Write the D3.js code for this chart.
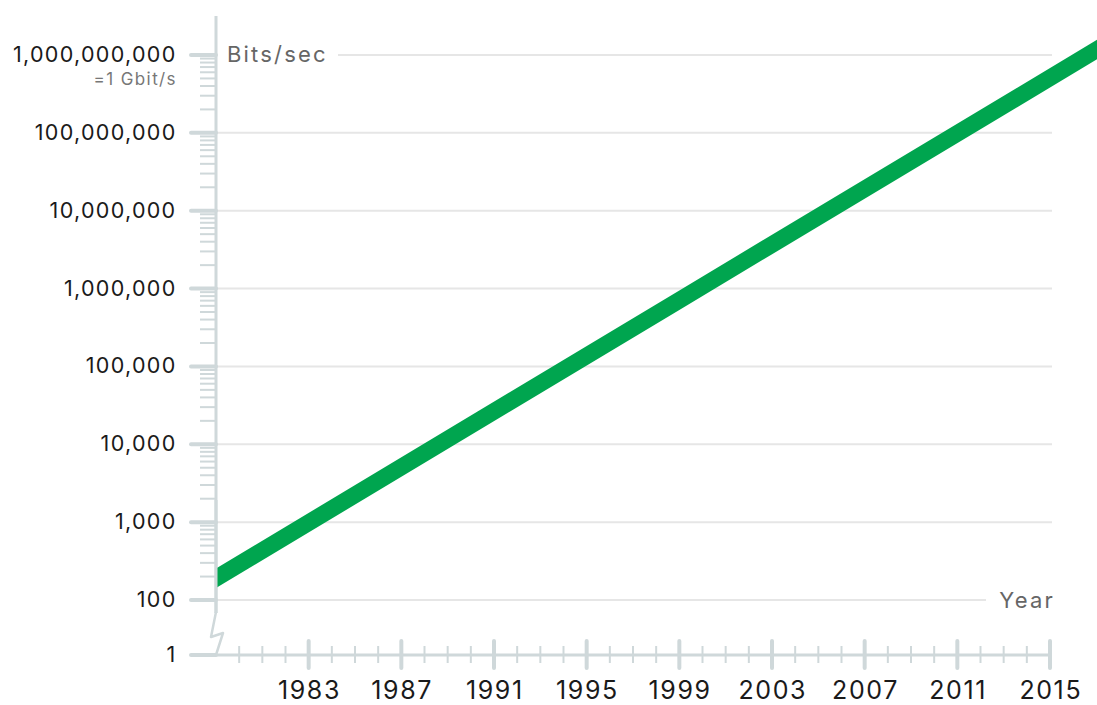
<!DOCTYPE html>
<html>
<head>
<meta charset="utf-8">
<script src="https://cdn.jsdelivr.net/npm/d3@7"></script>
<style>
  html, body { margin: 0; padding: 0; background: #fff; }
  svg { display: block; }
  text { font-family: Inter, "Open Sans", sans-serif; }
</style>
</head>
<body>
<svg id="chart" width="1097" height="705"></svg>
<script>
// ---- data ----
const years = [1979, 1999, 2018];
const bitsPerSec = [190, 710000, 1.75e9];

const yTickValues = [1e2, 1e3, 1e4, 1e5, 1e6, 1e7, 1e8, 1e9];
const yTickLabels = ["100", "1,000", "10,000", "100,000", "1,000,000", "10,000,000", "100,000,000", "1,000,000,000"];
const xTickYears = [1983, 1987, 1991, 1995, 1999, 2003, 2007, 2011, 2015];
const xMinorYears = d3.range(1980, 2015);
const breakLabel = "1";
const yAxisTitle = "Bits/sec";
const xAxisTitle = "Year";
const gbitNote = "=1 Gbit/s";

// ---- layout ----
const W = 1097, H = 705;
const axisX = 216, baseY = 655;
const axisColor = "#cfd8da";
const gridColor = "#e6e6e6";
const green = "#00a54f";

const x = d3.scaleLinear().domain([1979, 2015]).range([axisX, 1050]);
const y = d3.scaleLog().domain([1e2, 1e9]).range([600, 55]);

const svg = d3.select("#chart");

// gridlines
const grid = svg.append("g");
yTickValues.forEach(v => {
  let x0 = axisX, x1 = 1052;
  if (v === 1e9) x0 = 338;
  if (v === 1e2) x1 = 986;
  grid.append("line")
    .attr("x1", x0).attr("x2", x1)
    .attr("y1", y(v)).attr("y2", y(v))
    .attr("stroke", gridColor).attr("stroke-width", 2);
});

// minor y ticks (log)
const minorVals = [];
for (let d = 2; d < 9; d++) {
  for (let m = 2; m <= 9; m++) minorVals.push(m * Math.pow(10, d));
}
svg.append("g").selectAll("line").data(minorVals).join("line")
  .attr("x1", 200).attr("x2", axisX)
  .attr("y1", d => y(d)).attr("y2", d => y(d))
  .attr("stroke", axisColor).attr("stroke-width", 2);

// major y ticks
svg.append("g").selectAll("line").data(yTickValues).join("line")
  .attr("x1", 191).attr("x2", axisX)
  .attr("y1", d => y(d)).attr("y2", d => y(d))
  .attr("stroke", axisColor).attr("stroke-width", 4).attr("stroke-linecap", "round");

// break-level tick "1"
svg.append("line")
  .attr("x1", 191).attr("x2", axisX).attr("y1", baseY).attr("y2", baseY)
  .attr("stroke", axisColor).attr("stroke-width", 4).attr("stroke-linecap", "round");

// y axis line
svg.append("line")
  .attr("x1", axisX).attr("x2", axisX).attr("y1", 16).attr("y2", 613)
  .attr("stroke", axisColor).attr("stroke-width", 3);

// break zigzag
svg.append("path")
  .attr("d", `M${axisX},612 L${axisX - 5},637 L${axisX + 7},633 L${axisX},655`)
  .attr("fill", "none").attr("stroke", axisColor).attr("stroke-width", 2.5)
  .attr("stroke-linejoin", "round");

// x axis line
svg.append("line")
  .attr("x1", axisX).attr("x2", x(2015)).attr("y1", baseY).attr("y2", baseY)
  .attr("stroke", axisColor).attr("stroke-width", 3);

// minor x ticks
svg.append("g").selectAll("line").data(xMinorYears.filter(v => (v - 1983) % 4 !== 0)).join("line")
  .attr("x1", d => x(d)).attr("x2", d => x(d))
  .attr("y1", 646).attr("y2", 663)
  .attr("stroke", axisColor).attr("stroke-width", 2);

// major x ticks
svg.append("g").selectAll("line").data(xTickYears).join("line")
  .attr("x1", d => x(d)).attr("x2", d => x(d))
  .attr("y1", 641).attr("y2", 668)
  .attr("stroke", axisColor).attr("stroke-width", 4).attr("stroke-linecap", "round");

// x labels
svg.append("g").selectAll("text").data(xTickYears).join("text")
  .attr("x", d => x(d) + 0.8).attr("y", 699)
  .attr("text-anchor", "middle")
  .attr("font-size", 25).attr("letter-spacing", 1.6).attr("fill", "#1a1a1a")
  .text(d => d);

// y labels
svg.append("g").selectAll("text").data(yTickValues).join("text")
  .attr("x", 176.5).attr("y", d => y(d) + 7)
  .attr("text-anchor", "end")
  .attr("font-size", 21.5).attr("letter-spacing", 1.3).attr("fill", "#1a1a1a")
  .text((d, i) => yTickLabels[i]);

svg.append("text")
  .attr("x", 176.5).attr("y", baseY + 7)
  .attr("text-anchor", "end")
  .attr("font-size", 21.5).attr("letter-spacing", 1.3).attr("fill", "#1a1a1a")
  .text(breakLabel);

svg.append("text")
  .attr("x", 177).attr("y", 85)
  .attr("text-anchor", "end")
  .attr("font-size", 17).attr("letter-spacing", 1.4).attr("fill", "#777")
  .text(gbitNote);

// axis titles
svg.append("text")
  .attr("x", 227).attr("y", 62)
  .attr("font-size", 22).attr("letter-spacing", 2.2).attr("fill", "#666")
  .text(yAxisTitle);

svg.append("text")
  .attr("x", 1055).attr("y", 608)
  .attr("text-anchor", "end")
  .attr("font-size", 22).attr("letter-spacing", 2.2).attr("fill", "#666")
  .text(xAxisTitle);

// green band
const half = 9.75;
const pts = years.map((yr, i) => ({ yr, v: bitsPerSec[i] }));
const area = d3.area()
  .x(d => x(d.yr))
  .y0(d => y(d.v) - half)
  .y1(d => y(d.v) + half);
svg.append("path")
  .datum(pts)
  .attr("d", area)
  .attr("fill", green);

// redraw axis over band start
svg.append("line")
  .attr("x1", axisX).attr("x2", axisX).attr("y1", 500).attr("y2", 613)
  .attr("stroke", axisColor).attr("stroke-width", 3);
</script>
</body>
</html>
